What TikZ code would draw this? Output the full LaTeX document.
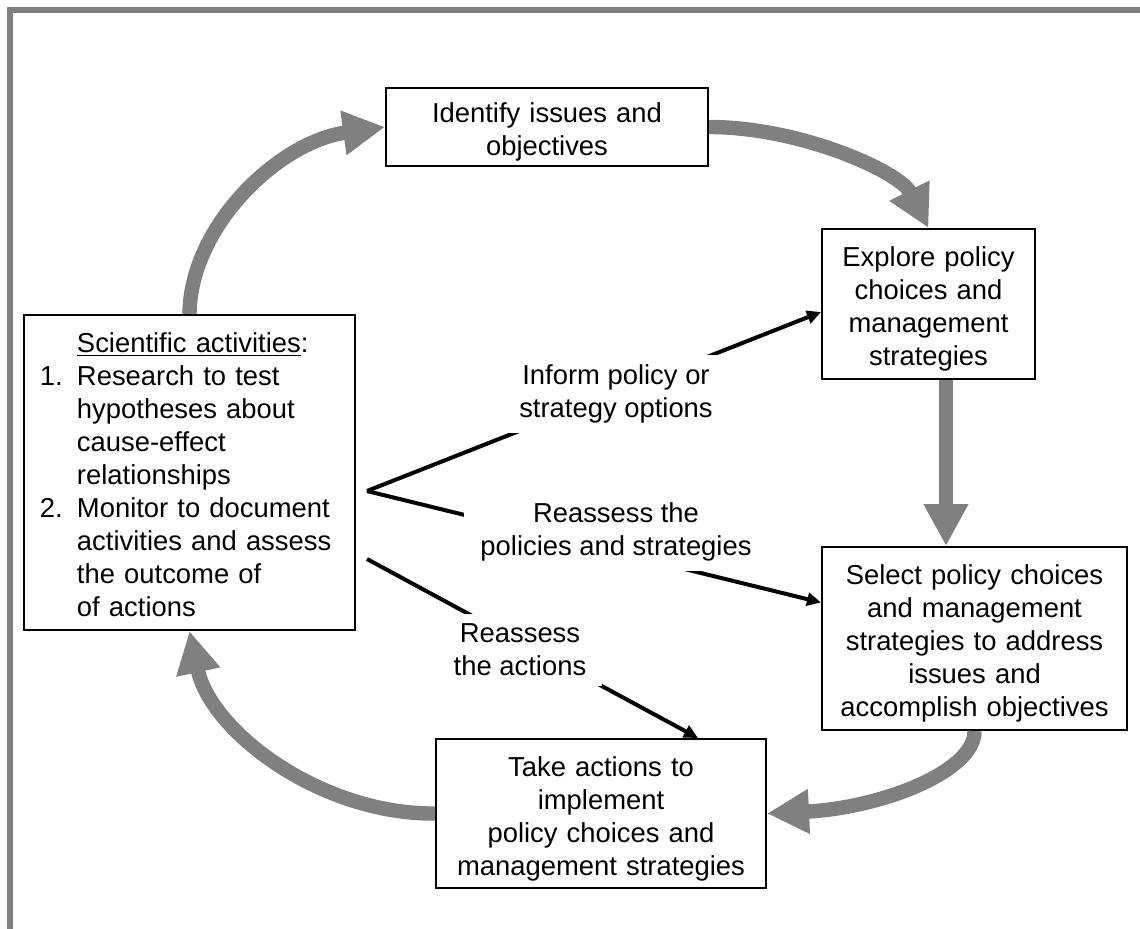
\documentclass[tikz,border=0pt]{standalone}
\usepackage{fontspec}
\setmainfont{Liberation Sans}
\usetikzlibrary{arrows.meta}
\definecolor{cyclegray}{RGB}{128,128,128}

\tikzset{
  stagebox/.style={draw, fill=white, line width=1pt, inner sep=0pt, align=center, font=\fontsize{13.7}{16.5}\selectfont},
  lbl/.style={fill=white, inner xsep=8pt, inner ysep=5pt, align=center, font=\fontsize{13.7}{16.5}\selectfont},
  cyclearrow/.style={draw=cyclegray, line width=7.2pt, -{Triangle[length=21pt,width=21pt]}},
  infoarrow/.style={line width=2pt, -{Triangle[length=7pt,width=6.5pt]}}
}
\newcommand{\topgap}{\rule{0pt}{15pt}}

\begin{document}
\begin{tikzpicture}[x=0.5pt,y=-0.5pt]
\useasboundingbox (0,0) rectangle (1140,928);
\clip (0,0) rectangle (1140,928);

% outer frame
\draw[cyclegray, line width=3pt] (9.5,1000) -- (9.5,9.7) -- (1200,9.7);

\node[stagebox, text width=161pt, minimum height=39pt] (ident) at (547,127) {\topgap Identify issues and\\objectives};
\node[stagebox, text width=106.5pt, minimum height=75pt] (explore) at (928.5,304) {\topgap Explore policy\\choices and\\management\\strategies};
\node[stagebox, text width=152.5pt, minimum height=91.5pt] (select) at (974.5,638.5) {\topgap Select policy choices\\and management\\strategies to address\\issues and\\accomplish objectives};
\node[stagebox, text width=165pt, minimum height=74.5pt] (takeact) at (601,813.5) {\topgap Take actions to\\implement\\policy choices and\\management strategies};
\node[stagebox, text width=165.5pt, minimum height=157.5pt, align=left] (sci) at (189.5,472.5) {\hspace*{8pt}\begin{tabular}{@{}p{18.5pt}@{}l@{}}
 & \rule{0pt}{16.5pt}\underline{Scientific activities}:\\
1. & Research to test\\
 & hypotheses about\\
 & cause-effect\\
 & relationships\\
2. & Monitor to document\\
 & activities and assess\\
 & the outcome of\\
 & of actions
\end{tabular}};

% the management cycle
\draw[cyclearrow] (sci.north) .. controls (190,227) and (278,142) .. (ident.west);
\draw[cyclearrow] (ident.east) .. controls (801,127) and (900,172) .. (explore.north);
\draw[cyclearrow] ([xshift=8.75pt]explore.south) -- ([xshift=-14.25pt]select.north);
\draw[cyclearrow] (select.south) .. controls (975,772) and (880,808) .. (takeact.east);
\draw[cyclearrow] (takeact.west) .. controls (321,814.5) and (211,732) .. (sci.south);

% feedback from science
\coordinate (fork) at (367,491);
\coordinate (fork2) at (367,559);
\draw[infoarrow] (fork) -- ([yshift=-4pt]explore.west);
\draw[infoarrow] (fork) -- ([yshift=18pt]select.west);
\draw[infoarrow] (fork2) -- ([xshift=48.5pt]takeact.north);

\node[lbl] (inform) at (616,394) {Inform policy or\\strategy options};
\node[lbl] (reassesspol) at (616,532) {Reassess the\\policies and strategies};
\node[lbl] (reassessact) at (520,650) {Reassess\\the actions};

\end{tikzpicture}
\end{document}
